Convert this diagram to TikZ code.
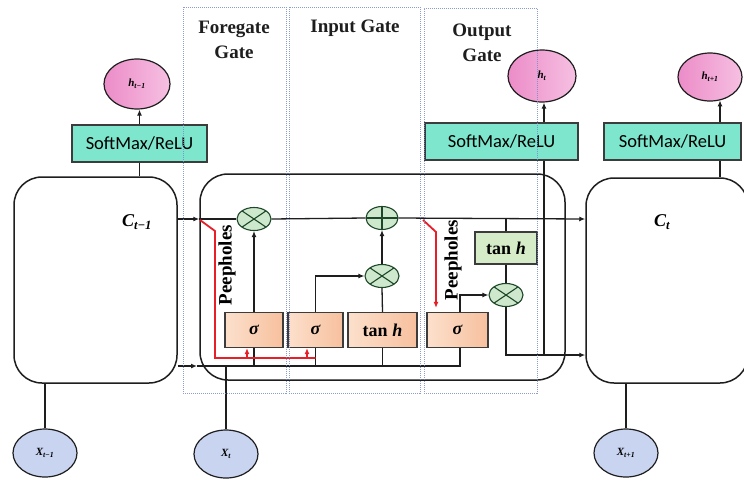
\documentclass[tikz,border=0pt]{standalone}
\usepackage{fontspec}
\setmainfont{Liberation Serif}
\newfontfamily\smfont{Carlito}
\usetikzlibrary{shapes.geometric,arrows.meta,calc}
\definecolor{linecol}{RGB}{30,30,30}
\definecolor{boxline}{RGB}{60,60,60}
\definecolor{gatecol}{RGB}{120,140,205}
\definecolor{smfill}{RGB}{125,230,205}
\definecolor{pinkL}{RGB}{236,140,200}
\definecolor{pinkR}{RGB}{246,192,226}
\definecolor{xfill}{RGB}{200,212,240}
\definecolor{opfill}{RGB}{205,232,205}
\definecolor{opdraw}{RGB}{30,70,40}
\definecolor{peachL}{RGB}{252,224,204}
\definecolor{peachR}{RGB}{247,192,158}
\definecolor{tfill}{RGB}{214,236,200}
\definecolor{peepred}{RGB}{232,30,40}
\begin{document}
\begin{tikzpicture}[x=1pt,y=-1pt,
  conn/.style={draw=linecol, line width=1.3pt},
  arr/.style={conn, -{Latex[length=6pt,width=5pt]}},
  redarr/.style={draw=peepred, line width=1.8pt, -{Latex[length=6pt,width=5pt]}},
  redline/.style={draw=peepred, line width=1.8pt},
  cellbox/.style={draw=linecol, line width=1.5pt, rounded corners=28pt, inner sep=0pt},
  gatebox/.style={draw=gatecol, densely dotted, line width=1pt, inner sep=0pt, draw opacity=0.85},
  gatelabel/.style={align=center, font=\bfseries\fontsize{19}{25}\selectfont, text=linecol},
  smbox/.style={draw=boxline, line width=1.2pt, fill=smfill, minimum height=37pt, inner sep=0pt, font=\smfont\fontsize{18.5}{20}\selectfont},
  hell/.style={ellipse, draw=linecol, line width=1.2pt, left color=pinkL, right color=pinkR, inner sep=0pt, font=\bfseries\itshape\fontsize{11}{12}\selectfont},
  xell/.style={ellipse, draw=linecol, line width=1.2pt, fill=xfill, minimum width=64pt, minimum height=48pt, inner sep=0pt, font=\bfseries\itshape\fontsize{11}{12}\selectfont},
  opx/.style={ellipse, draw=opdraw, line width=1.1pt, fill=opfill, minimum width=34pt, minimum height=23pt, inner sep=0pt,
    path picture={\draw[opdraw, line width=1.1pt] (path picture bounding box.north west) -- (path picture bounding box.south east)
      (path picture bounding box.north east) -- (path picture bounding box.south west);}},
  opp/.style={ellipse, draw=opdraw, line width=1.1pt, fill=opfill, minimum width=32pt, minimum height=23pt, inner sep=0pt,
    path picture={\draw[opdraw, line width=1.1pt] (path picture bounding box.north) -- (path picture bounding box.south)
      (path picture bounding box.west) -- (path picture bounding box.east);}},
  gbox/.style={draw=boxline, line width=1.2pt, left color=peachL, right color=peachR, minimum height=35pt, inner sep=0pt, font=\bfseries\fontsize{18}{20}\selectfont},
  tbox/.style={draw=boxline, line width=1.2pt, fill=tfill, inner sep=0pt, font=\bfseries\fontsize{18}{20}\selectfont},
  clabel/.style={font=\bfseries\itshape\fontsize{18}{20}\selectfont},
  peep/.style={rotate=90, font=\bfseries\fontsize{19}{20}\selectfont, inner sep=0pt}
]
\useasboundingbox (0,0) rectangle (744,480);
\fill[white] (0,0) rectangle (744,480);

% cells
\node[cellbox, minimum width=163pt, minimum height=206pt] (c1) at (95.5,280) {};
\node[cellbox, minimum width=365pt, minimum height=206pt] (c2) at (382.5,277) {};
\node[cellbox, minimum width=162pt, minimum height=205pt] (c3) at (667,280.5) {};
\node[clabel] (C1) at (137,222) {C\textsubscript{t−1}};
\node[clabel] (C3) at (662,222) {C\textsubscript{t}};

% softmax boxes and outputs
\node[smbox, minimum width=135pt] (sm1) at (139.5,143.5) {SoftMax/ReLU};
\node[smbox, minimum width=153pt] (sm2) at (501.5,141.5) {SoftMax/ReLU};
\node[smbox, minimum width=137pt] (sm3) at (672.5,141.5) {SoftMax/ReLU};
\node[hell, minimum width=66pt, minimum height=50pt] (h1) at (137,84) {h\textsubscript{t−1}};
\node[hell, minimum width=68pt, minimum height=52pt] (h2) at (542,76) {h\textsubscript{t}};
\node[hell, minimum width=64pt, minimum height=48pt] (h3) at (710,77) {h\textsubscript{t+1}};

% inputs
\node[xell] (x1) at (45,453) {X\textsubscript{t−1}};
\node[xell] (xt) at (226,454) {X\textsubscript{t}};
\node[xell] (x3) at (626,453) {X\textsubscript{t+1}};

% helper coordinates
\coordinate (ycs) at (0,219);
\coordinate (yo) at (0,355);
\coordinate (hin) at (197,366);
\coordinate (mx) at (544,0);
\coordinate (rx) at (720,0);

% operators
\node[opx] (fx) at (254,219) {};
\node[opp] (ad) at (382,218) {};
\node[opx] (ix) at (382,276) {};
\node[opx] (ox) at (506,295) {};

% gate boxes
\node[gbox, minimum width=58pt] (sf) at (254,330) {\itshape σ};
\node[gbox, minimum width=55pt] (si) at (315.5,330) {\itshape σ};
\node[gbox, minimum width=69pt] (st) at (382.5,330) {tan \textit{h}};
\node[gbox, minimum width=61pt] (so) at (457.5,330) {\itshape σ};
\node[tbox, minimum width=62pt, minimum height=32pt] (ot) at (506,248) {tan \textit{h}};

% cell state line
\draw[arr] (c1.east |- ycs) -- (c2.west |- ycs);
\draw[conn] (c2.west |- ycs) -- (fx.west);
\draw[conn] (fx.east) -- (ad.west);
\draw[arr] (ad.east) -- (c3.west |- ycs);

% gate internals
\draw[arr] (sf.north) -- (fx.south);
\draw[arr] (si.north) |- (ix.west);
\draw[conn] (st.north) -- (ix.south);
\draw[arr] (ix.north) -- (ad.south);
\draw[conn] (ot.north) -- (ot.north |- ycs);
\draw[conn] (ot.south) -- (ox.north);
\draw[arr] ([xshift=2.5pt]so.north) |- (ox.west);
\draw[arr] (ox.south) |- (c3.west |- yo);

% hidden-state input line
\draw[arr] (c1.east |- hin) -- (hin);
\draw[conn] (hin) -| ([xshift=2.5pt]so.south);
\draw[conn] (sf.south) -- (sf.south |- hin);
\draw[conn] (si.south) -- (si.south |- hin);
\draw[conn] (st.south) -- (st.south |- hin);
\draw[conn] (xt.north) -- (xt.north |- hin);
\draw[conn] (x1.north) -- (x1.north |- c1.south);
\draw[conn] (x3.north) -- (x3.north |- c3.south);

% outputs
\draw[conn] (sm1.south) -- (sm1.south |- c1.north);
\draw[arr] (sm1.north) -- (sm1.north |- h1.south);
\draw[conn] (sm2.south -| mx) -- (mx |- yo);
\draw[arr] (sm2.north -| mx) -- (mx |- h2.south);
\draw[conn] (sm3.south -| rx) -- (rx |- c3.north);
\draw[arr, shorten >=-1.2pt] (sm3.north -| rx) -- (rx |- h3.south);

% peepholes
\coordinate (p1a) at (200,220);
\coordinate (p1b) at (215,231);
\coordinate (p1c) at (215,358);
\coordinate (r1) at (247,358);
\coordinate (r2) at (307,358);
\draw[redline] (p1a) -- (p1b) -- (p1c) -- (si.south |- p1c);
\draw[redarr] (r1) -- (r1 |- sf.south);
\draw[redarr] (r2) -- (r2 |- si.south);
\coordinate (p2a) at (423,220);
\coordinate (p2b) at (436,232);
\draw[redarr, shorten >=4pt] (p2a) -- (p2b) -- (p2b |- so.north);
\node[peep] (pp1) at (227,265) {Peepholes};
\node[peep] (pp2) at (453,260) {Peepholes};

% gate labels
\node[gatelabel] (lF) at (234,40) {Foregate\\Gate};
\node[gatelabel] (lI) at (355,28) {Input Gate};
\node[gatelabel] (lO) at (482,43) {Output\\Gate};

% dotted gate regions
\node[gatebox, minimum width=103pt, minimum height=386pt] (gF) at (234.5,200) {};
\node[gatebox, minimum width=131pt, minimum height=386pt] (gI) at (354.5,200) {};
\node[gatebox, minimum width=113pt, minimum height=385pt] (gO) at (480.5,200.5) {};
\end{tikzpicture}
\end{document}
